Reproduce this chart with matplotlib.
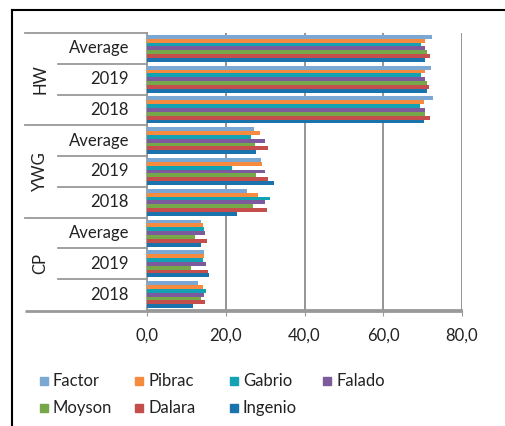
import numpy as np
import matplotlib
matplotlib.use('Agg')
import matplotlib.pyplot as plt
from matplotlib.lines import Line2D
from matplotlib.patches import Rectangle

plt.rcParams['font.family'] = ['Lato', 'DejaVu Sans']

# categories, bottom to top
groups = ['CP', 'YWG', 'HW']
subcats = ['2018', '2019', 'Average']
series = ['Factor', 'Pibrac', 'Gabrio', 'Falado', 'Moyson', 'Dalara', 'Ingenio']
colors = ['#7BA7D3', '#F68A3F', '#12A2B4', '#7C5A9C', '#76A84A', '#C44E4C', '#1B73AE']

# values per series, in category order CP 2018, 2019, Avg, YWG 2018, 2019, Avg, HW 2018, 2019, Avg
factor  = [13.0, 14.4, 13.8, 25.5, 29.0, 27.2, 72.7, 72.2, 72.4]
pibrac  = [14.1, 14.4, 14.2, 28.1, 29.2, 28.6, 70.3, 70.7, 70.5]
gabrio  = [15.0, 14.2, 14.6, 31.2, 21.6, 26.4, 69.3, 69.7, 69.5]
falado  = [14.6, 15.0, 14.7, 30.0, 29.9, 29.9, 70.5, 70.5, 70.5]
moyson  = [13.7, 11.2, 12.3, 27.0, 27.8, 27.4, 70.7, 71.2, 71.0]
dalara  = [14.8, 15.5, 15.2, 30.4, 30.8, 30.7, 71.8, 71.6, 71.8]
ingenio = [11.7, 15.7, 13.7, 22.8, 32.2, 27.6, 70.3, 71.0, 70.7]
values = [factor, pibrac, gabrio, falado, moyson, dalara, ingenio]

W, H = 505, 426
fig = plt.figure(figsize=(W / 100, H / 100), dpi=100)
x0, x1, y0, y1 = 147, 462, 33, 310
ax = fig.add_axes([x0 / W, 1 - y1 / H, (x1 - x0) / W, (y1 - y0) / H])

h = 0.125
ypos = np.arange(9)
for i, (name, vals) in enumerate(zip(series, values)):
    ax.barh(ypos + (3 - i) * h, vals, height=h, color=colors[i], label=name, zorder=3)

ax.set_xlim(0, 80)
ax.set_ylim(-0.5, 8.5)
ax.set_xticks([0, 20, 40, 60, 80])
ax.set_xticklabels(['0,0', '20,0', '40,0', '60,0', '80,0'], fontsize=12, color='#222222')
ax.set_yticks([])
ax.tick_params(axis='x', length=4, color='#999999', pad=9)
ax.grid(axis='x', color='#8c8c8c', lw=1.3, zorder=0)
for s in ['top', 'right']:
    ax.spines[s].set_visible(False)
for s in ['left', 'bottom']:
    ax.spines[s].set_color('#999999')
    ax.spines[s].set_linewidth(1.3)

# hierarchical category labels
def axx(px):
    return (px - x0) / (x1 - x0)

def fig_y(b):
    # figure fraction of the category boundary b (data units)
    return 1 - (y1 - (b + 0.5) / 9 * (y1 - y0)) / H

lc = '#999999'
tr = ax.get_yaxis_transform()
for g in range(1, 4):
    yy = fig_y(g * 3 - 0.5)
    fig.add_artist(Line2D([25 / W, x0 / W], [yy, yy], transform=fig.transFigure, color=lc, lw=1.3))
# bottom edge of the label table
yb = 1 - (y1 + 1) / H
fig.add_artist(Line2D([25 / W, x1 / W], [yb, yb], transform=fig.transFigure, color=lc, lw=2.0,
                      solid_capstyle='butt'))
for g, gname in enumerate(groups):
    for k, sname in enumerate(subcats):
        c = g * 3 + k
        ax.text(axx(129), c, sname, transform=tr, ha='right', va='center', fontsize=12, color='#222222')
        if k > 0:
            yy = fig_y(c - 0.5)
            fig.add_artist(Line2D([58 / W, x0 / W], [yy, yy], transform=fig.transFigure, color=lc, lw=1.3))
    ax.text(axx(40), g * 3 + 1, gname, transform=tr, ha='center', va='center', rotation=90,
            fontsize=12, color='#222222')

# legend
leg_pos = [(44, 381), (139, 381), (234, 381), (327, 381), (44, 408), (139, 408), (234, 408)]
for (px, py), name, col in zip(leg_pos, series, colors):
    fig.patches.append(Rectangle(((px - 4) / W, 1 - (py + 4) / H), 8 / W, 8 / H,
                                 transform=fig.transFigure, color=col))
    fig.text((px + 9) / W, 1 - py / H, name, ha='left', va='center', fontsize=12, color='#222222')

# screenshot border
fig.add_artist(Line2D([12 / W, 1], [1 - 10 / H, 1 - 10 / H], transform=fig.transFigure, color='black', lw=1.5))
fig.add_artist(Line2D([12 / W, 12 / W], [0, 1 - 10 / H], transform=fig.transFigure, color='black', lw=1.5))

fig.savefig('out.png', dpi=100)
